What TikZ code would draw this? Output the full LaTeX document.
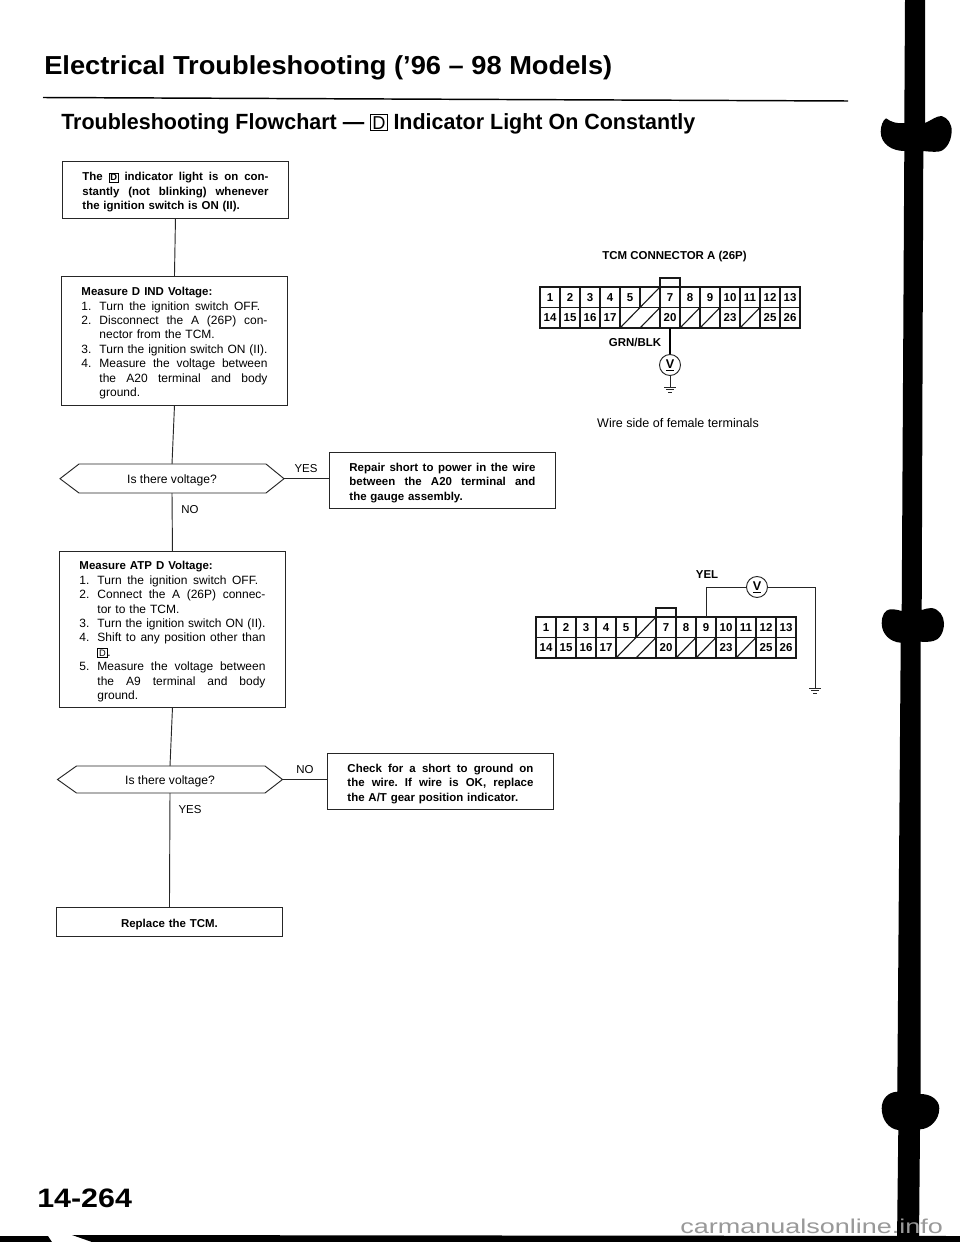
\documentclass[tikz,border=0pt]{standalone}
\usepackage{fontspec}
\usepackage{graphicx}
\setmainfont{Liberation Sans}
\usetikzlibrary{calc}
\newcommand{\stretchspace}{\spaceskip=0.3em plus 2em minus 0.08em\relax\xspaceskip=\spaceskip}
\newcommand{\jl}[1]{\makebox[139.5pt][s]{\stretchspace #1}}
\newcommand{\nj}[2]{\makebox[13.5pt][l]{#1}\makebox[126pt][s]{\stretchspace #2}}
\newcommand{\nc}[1]{\hspace*{13.5pt}\makebox[126pt][s]{\stretchspace #1}}
\newcommand{\nt}[2]{\makebox[13.5pt][l]{#1}\makebox[120.5pt][s]{\stretchspace #2}}
\newcommand{\cf}[1]{\hspace*{13.5pt}#1}
\newcommand{\hd}[1]{{\fontsize{8.6}{10.8}\selectfont\bfseries #1}}
\newcommand{\dkey}[1]{{\setlength{\fboxsep}{0.8pt}\setlength{\fboxrule}{0.4pt}\fbox{\fontsize{#1}{#1}\selectfont D}}}
\tikzset{
  x=0.75pt,y=-0.75pt,
  thinline/.style={line width=0.7pt,draw=black!85},
  gridline/.style={line width=0.85pt,draw=black!90},
  flowbox/.style={thinline,rectangle,anchor=north west,inner xsep=15pt,inner ysep=0pt,text width=139.5pt,align=left,font=\fontsize{9}{10.8}\selectfont,execute at begin node={\rule{0pt}{9.6pt}}},
  boldbox/.style={flowbox,font=\fontsize{8.6}{10.8}\selectfont\bfseries},
  plain/.style={inner sep=0pt,font=\fontsize{9.1}{10.8}\selectfont},
  wirenote/.style={inner sep=0pt,font=\fontsize{9.4}{11}\selectfont},
  yn/.style={inner sep=0pt,font=\fontsize{8.6}{10.8}\selectfont},
  caplabel/.style={inner sep=0pt,font=\fontsize{8.6}{10}\selectfont\bfseries},
  cellnum/.style={inner sep=0pt,font=\fontsize{8.6}{10}\selectfont\bfseries},
  meter/.style={thinline,circle,inner sep=0pt,minimum size=15.75pt,fill=white,font=\fontsize{9.5}{10}\selectfont\bfseries},
  conn/.pic={
    \draw[gridline] (0,0) rectangle (260,41);
    \draw[gridline] (0,20.5) -- (260,20.5);
    \foreach \c in {1,2,3,4,7,9,10,11,12}
      \draw[gridline] (20*\c,0) -- (20*\c,41);
    \draw[gridline] (100,0) -- (100,20.5);
    \draw[gridline] (120,0) -- (120,41);
    \draw[gridline] (140,0) -- (140,41);
    \draw[gridline] (160,0) -- (160,41);
    \draw[gridline] (120,0) -- (120,-9) -- (140,-9) -- (140,0);
    \draw[gridline] (100,20.5) -- (120,0);
    \foreach \c in {4,5,7,8,10}
      \draw[gridline] (20*\c,41) -- (20*\c+20,20.5);
    \foreach \c/\n in {0/1,1/2,2/3,3/4,4/5,6/7,7/8,8/9,9/10,10/11,11/12,12/13}
      \node[cellnum] (-n\n) at (20*\c+10,10.5) {\n};
    \foreach \c/\n in {0/14,1/15,2/16,3/17,6/20,9/23,11/25,12/26}
      \node[cellnum] (-n\n) at (20*\c+10,31) {\n};
    \coordinate (-b20) at (130,41);
    \coordinate (-t9) at (170,0);
  },
  gnd/.pic={
    \coordinate (-top) at (0,0);
    \draw[thinline] (-6,0) -- (6,0);
    \draw[thinline] (-4,2.5) -- (4,2.5);
    \draw[thinline] (-2,5) -- (2,5);
  }
}
\begin{document}
\begin{tikzpicture}
\useasboundingbox (0,0) rectangle (960,1242);
\fill[white] (0,0) rectangle (960,1242);

% headings
\node[anchor=base west,inner sep=0pt,font=\fontsize{19.5}{22}\selectfont\bfseries] (title) at (44,74)
  {\resizebox{426pt}{\height}{Electrical Troubleshooting ('96 – 98 Models)}};
\draw[black,line width=1.1pt] (43,97.5) -- (848,101);
\node[anchor=base west,inner sep=0pt,font=\fontsize{16.5}{20}\selectfont\bfseries] (subtitle) at (61,129)
  {\resizebox{475.5pt}{\height}{Troubleshooting Flowchart — {\setlength{\fboxsep}{1pt}\setlength{\fboxrule}{0.6pt}\fbox{\mdseries\fontsize{14}{14}\selectfont D}} Indicator Light On Constantly}};

% flowchart
\node[boldbox,minimum width=169.5pt,minimum height=42.75pt] (b1) at (62,161)
  {\jl{The \dkey{7} indicator light is on con-}\\
   \jl{stantly (not blinking) whenever}\\
   the ignition switch is ON (II).};
\node[flowbox,minimum width=169.5pt,minimum height=96.75pt] (b2) at (61,276)
  {\hd{Measure D IND Voltage:}\\
   \nt{1.}{Turn the ignition switch OFF.}\\
   \nj{2.}{Disconnect the A (26P) con-}\\
   \cf{nector from the TCM.}\\
   \nj{3.}{Turn the ignition switch ON (II).}\\
   \nj{4.}{Measure the voltage between}\\
   \nc{the A20 terminal and body}\\
   \cf{ground.}};

\node[plain] (d1) at (172,480) {Is there voltage?};
\coordinate (d1w) at (60,478.7);
\coordinate (d1e) at (284,478.7);
\coordinate (d1n) at (172,464);
\coordinate (d1s) at (172,493);
\draw[thinline] (d1w) -- (79,464) -- (266,464) -- (d1e) -- (266,493) -- (79,493) -- cycle;

\node[boldbox,minimum width=169.5pt,minimum height=42pt] (b3) at (329,452)
  {\jl{Repair short to power in the wire}\\
   \jl{between the A20 terminal and}\\
   the gauge assembly.};

\node[flowbox,minimum width=169.5pt,minimum height=117pt] (b4) at (59,551)
  {\hd{Measure ATP D Voltage:}\\
   \nt{1.}{Turn the ignition switch OFF.}\\
   \nj{2.}{Connect the A (26P) connec-}\\
   \cf{tor to the TCM.}\\
   \nj{3.}{Turn the ignition switch ON (II).}\\
   \nj{4.}{Shift to any position other than}\\
   \cf{\dkey{7}.}\\
   \nj{5.}{Measure the voltage between}\\
   \nc{the A9 terminal and body}\\
   \cf{ground.}};

\node[plain] (d2) at (170,781) {Is there voltage?};
\coordinate (d2w) at (57.5,779.5);
\coordinate (d2e) at (282.5,779.5);
\coordinate (d2n) at (170,766);
\coordinate (d2s) at (170,793);
\draw[thinline] (d2w) -- (76.5,766) -- (265,766) -- (d2e) -- (265,793) -- (76.5,793) -- cycle;

\node[boldbox,minimum width=169.5pt,minimum height=42pt] (b5) at (327,753)
  {\jl{Check for a short to ground on}\\
   \jl{the wire. If wire is OK, replace}\\
   the A/T gear position indicator.};
\node[boldbox,minimum width=169.5pt,minimum height=21.75pt,align=center] (b6) at (56,907)
  {Replace the TCM.};

\draw[thinline] (b1.south) -- (b2.north);
\draw[thinline] (b2.south) -- (d1n);
\draw[thinline] (d1s) -- (b4.north);
\draw[thinline] (b4.south) -- (d2n);
\draw[thinline] (d2s) -- (b6.north);
\draw[thinline] (d1e) -- (d1e -| b3.west);
\draw[thinline] (d2e) -- (d2e -| b5.west);

\node[yn] (yes1) at (306,469) {YES};
\node[yn] (no1) at (190,510) {NO};
\node[yn] (no2) at (305,770) {NO};
\node[yn] (yes2) at (190,810) {YES};

% connector A with meter to ground
\node[caplabel] (tcm) at (674.5,257) {TCM CONNECTOR A (26P)};
\pic (ca) at (540,287) {conn};
\node[caplabel] (grn) at (635,342) {GRN/BLK};
\node[meter] (va) at (670,365) {\underline{V}};
\pic (ga) at (670,387) {gnd};
\draw[black,line width=1.1pt] (ca-b20) -- (va.north);
\draw[thinline] (va.south) -- (ga-top);
\node[wirenote] (wire) at (678,423) {Wire side of female terminals};

% connector A with meter on terminal 9
\pic (cb) at (536,617) {conn};
\node[caplabel] (yel) at (707,575) {YEL};
\node[meter] (vb) at (757,587) {\underline{V}};
\pic (gb) at (815,688) {gnd};
\draw[thinline] (cb-t9) |- (vb.west);
\draw[thinline] (vb.east) -| (gb-top);

% binding strip
\fill[black] (905,0) -- (925,0) -- (925,123)
  .. controls (932,120) and (936,116) .. (941.7,116)
  .. controls (948,118) and (952,124) .. (951.7,131.7)
  .. controls (951,143) and (945,151) .. (938,151.7)
  .. controls (932,152) and (928,151.5) .. (923.3,151)
  -- (921.7,610)
  .. controls (925,609) and (928,608) .. (931.7,608)
  .. controls (939,609) and (944,616) .. (944,623.3)
  .. controls (944,633) and (939,640) .. (933.3,641)
  .. controls (929,642) and (925,642) .. (920.7,641.7)
  -- (920.7,1094)
  .. controls (931,1094) and (939.3,1100) .. (939.3,1108.3)
  .. controls (939.3,1120) and (930,1129) .. (920,1129.3)
  -- (919,1242) -- (897,1242) -- (898.3,1130)
  .. controls (889,1129) and (881.7,1120) .. (881.7,1108.3)
  .. controls (881.7,1099) and (888,1092) .. (897.3,1091.7)
  -- (900.7,642.7)
  .. controls (890,642) and (881.7,634) .. (881.7,623.3)
  .. controls (881.7,615) and (885,610) .. (890,609.3)
  .. controls (894,609) and (898,610) .. (901.7,611)
  -- (904.3,151)
  .. controls (892,151) and (880.7,144) .. (880.7,131.7)
  .. controls (880.7,126) and (883,120) .. (886,118.3)
  .. controls (891,122) and (897,124) .. (904.3,123)
  -- cycle;
\fill[black] (0,1236) -- (48,1236) -- (52,1242) -- (0,1242) -- cycle;
\fill[black] (72,1235) -- (960,1236) -- (960,1242) -- (92,1242) -- cycle;

\node[anchor=base west,inner sep=0pt,font=\fontsize{20}{22}\selectfont\bfseries] (page) at (37,1207)
  {\resizebox{71pt}{\height}{14-264}};
\node[anchor=base west,inner sep=0pt,text=black!40,font=\fontsize{15}{18}\selectfont] (mark) at (680,1233)
  {\resizebox{197pt}{\height}{carmanualsonline.info}};
\end{tikzpicture}
\end{document}
